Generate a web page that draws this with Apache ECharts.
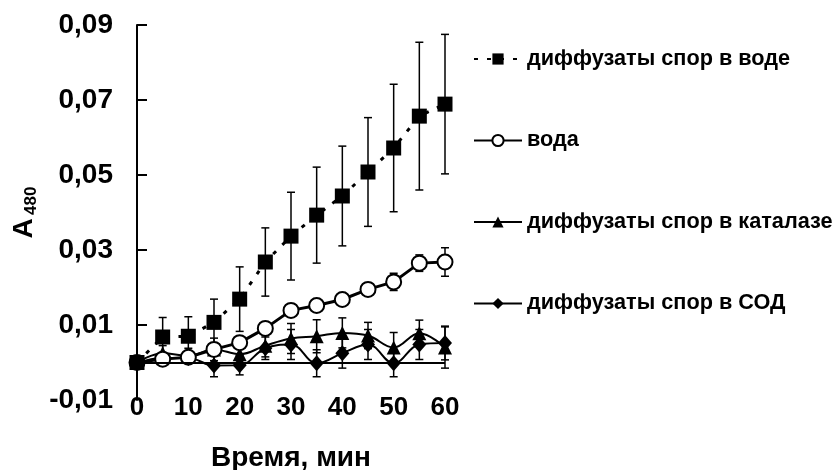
<!DOCTYPE html>
<html>
<head>
<meta charset="utf-8">
<script src="https://cdn.jsdelivr.net/npm/echarts@6/dist/echarts.min.js"></script>
<style>
  html, body { margin: 0; padding: 0; background: #fff; }
  #chart { width: 835px; height: 470px; }
</style>
</head>
<body>
<div id="chart"></div>
<script>
var times = [0, 5, 10, 15, 20, 25, 30, 35, 40, 45, 50, 55, 60];
var yTicks = [-0.01, 0.01, 0.03, 0.05, 0.07, 0.09];

var sporesWater    = [0, 0.0068, 0.0070, 0.0107, 0.0169, 0.0268, 0.0337, 0.0393, 0.0444, 0.0508, 0.0572, 0.0657, 0.0689];
var sporesWaterErr = [0, 0.0052, 0.0052, 0.0062, 0.0086, 0.0091, 0.0117, 0.0128, 0.0133, 0.0145, 0.0170, 0.0197, 0.0186];
var water          = [0, 0.0009, 0.0014, 0.0035, 0.0053, 0.0091, 0.0139, 0.0152, 0.0168, 0.0195, 0.0215, 0.0265, 0.0268];
var waterErr       = [0, 0, 0, 0, 0, 0, 0, 0, 0, 0, 0.0023, 0.0022, 0.0038];
var catalase       = [0, 0.0025, 0.0018, 0.0035, 0.0022, 0.0045, 0.0064, 0.0070, 0.0079, 0.0072, 0.0040, 0.0078, 0.0040];
var catalaseErr    = [0, 0.0020, 0.0020, 0.0030, 0.0030, 0.0030, 0.0040, 0.0044, 0.0040, 0.0035, 0.0040, 0.0035, 0.0055];
var sod            = [-0.0002, 0.0012, 0.0012, -0.0008, -0.0007, 0.0038, 0.0048, -0.0002, 0.0025, 0.0048, -0.0002, 0.0048, 0.0052];
var sodErr         = [0, 0.0010, 0.0010, 0.0030, 0.0026, 0.0030, 0.0040, 0.0036, 0.0040, 0.0040, 0.0036, 0.0040, 0.0045];

var names = ['диффузаты спор в воде', 'вода', 'диффузаты спор в каталазе', 'диффузаты спор в СОД'];

function pairs(vals) {
  return times.map(function (t, i) { return [t, vals[i]]; });
}
function bars(vals, errs) {
  var out = [];
  times.forEach(function (t, i) {
    if (errs[i] > 0) out.push([t, vals[i] - errs[i], vals[i] + errs[i]]);
  });
  return out;
}
function errorSeries(vals, errs) {
  return {
    type: 'custom',
    silent: true,
    z: 1,
    data: bars(vals, errs),
    renderItem: function (params, api) {
      var lo = api.coord([api.value(0), api.value(1)]);
      var hi = api.coord([api.value(0), api.value(2)]);
      var w = 4;
      var st = { stroke: '#000', lineWidth: 1.5 };
      return {
        type: 'group',
        children: [
          { type: 'line', shape: { x1: lo[0], y1: lo[1], x2: hi[0], y2: hi[1] }, style: st },
          { type: 'line', shape: { x1: lo[0] - w, y1: lo[1], x2: lo[0] + w, y2: lo[1] }, style: st },
          { type: 'line', shape: { x1: hi[0] - w, y1: hi[1], x2: hi[0] + w, y2: hi[1] }, style: st }
        ]
      };
    }
  };
}

var font = 'Liberation Sans, Arial, sans-serif';
var chart = echarts.init(document.getElementById('chart'));
var option = {
  animation: false,
  textStyle: { fontFamily: font, color: '#000' },
  grid: { left: 137, right: 390, top: 25, bottom: 70, outerBoundsMode: 'none' },
  legend: {
    orient: 'vertical',
    left: 468,
    top: 43,
    itemGap: 59.5,
    itemWidth: 48,
    itemHeight: 14,
    data: names,
    textStyle: { fontFamily: font, fontWeight: 'bold', fontSize: 21.7, color: '#000' }
  },
  xAxis: {
    type: 'value',
    min: 0,
    max: 60,
    interval: 10,
    name: 'Время, мин',
    nameLocation: 'middle',
    nameGap: 44,
    nameTextStyle: { fontFamily: font, fontWeight: 'bold', fontSize: 28, color: '#000' },
    axisLine: { show: false },
    axisTick: { show: false },
    splitLine: { show: false },
    axisLabel: { margin: -5, fontFamily: font, fontWeight: 'bold', fontSize: 26, color: '#000' }
  },
  yAxis: {
    type: 'value',
    min: -0.01,
    max: 0.09,
    name: '{a|A} {s|480}',
    nameLocation: 'middle',
    nameRotate: 90,
    nameGap: 97,
    nameTextStyle: {
      rich: {
        a: { fontFamily: font, fontWeight: 'bold', fontSize: 28, color: '#000', lineHeight: 32 },
        s: { fontFamily: font, fontWeight: 'bold', fontSize: 17, color: '#000', lineHeight: 32, verticalAlign: 'bottom' }
      }
    },
    axisLine: { show: true, lineStyle: { color: '#000', width: 2 } },
    axisTick: { show: true, inside: true, length: 10, lineStyle: { color: '#000', width: 2 }, customValues: yTicks.slice(1) },
    axisLabel: {
      margin: 24,
      fontFamily: font, fontWeight: 'bold', fontSize: 28, color: '#000',
      customValues: yTicks,
      formatter: function (v) { return v.toFixed(2).replace('.', ','); }
    },
    splitLine: { show: false }
  },
  series: [
    errorSeries(sporesWater, sporesWaterErr),
    errorSeries(water, waterErr),
    errorSeries(catalase, catalaseErr),
    errorSeries(sod, sodErr),
    {
      name: names[3],
      type: 'line',
      smooth: 0.4,
      z: 3,
      data: pairs(sod),
      symbol: 'diamond',
      symbolSize: [14, 16],
      itemStyle: { color: '#000' },
      lineStyle: { color: '#000', width: 2 },
      markLine: {
        silent: true,
        symbol: 'none',
        label: { show: false },
        lineStyle: { color: '#000', width: 2, type: 'solid' },
        data: [{ yAxis: 0 }]
      }
    },
    {
      name: names[2],
      type: 'line',
      smooth: 0.4,
      z: 3,
      data: pairs(catalase),
      symbol: 'triangle',
      symbolSize: [14, 14],
      itemStyle: { color: '#000' },
      lineStyle: { color: '#000', width: 2 }
    },
    {
      name: names[1],
      type: 'line',
      z: 4,
      data: pairs(water),
      symbol: 'circle',
      symbolSize: 15,
      itemStyle: { color: '#fff', borderColor: '#000', borderWidth: 2 },
      lineStyle: { color: '#000', width: 3 }
    },
    {
      name: names[0],
      type: 'line',
      z: 5,
      data: pairs(sporesWater),
      symbol: 'rect',
      symbolSize: 15,
      itemStyle: { color: '#000' },
      lineStyle: { color: '#000', width: 3, type: [4, 9] }
    }
  ]
};
chart.setOption(option);
</script>
</body>
</html>
